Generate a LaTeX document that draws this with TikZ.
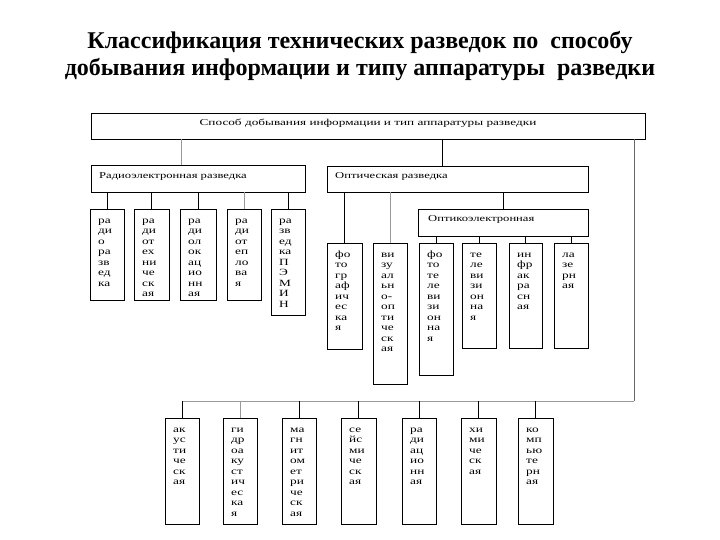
\documentclass[tikz,border=0pt]{standalone}
\usepackage{fontspec}
\setmainfont{Liberation Serif}
\newfontfamily\leaffont[FakeStretch=1.4]{Liberation Serif}
\usetikzlibrary{calc}
\newcommand\leafbox[6]{%
  \node[box, minimum width=#4pt, minimum height=#5pt] (#1) at (#2,#3) {};
  \node[ltext] (#1t) at ($(#1.north west)+(8,6.8)$) {\strut#6};
}
\begin{document}
\begin{tikzpicture}[x=1pt,y=-1pt,
  box/.style={draw=black, line width=0.8pt, inner sep=0pt, outer sep=0pt, anchor=north west},
  ltext/.style={anchor=north west, inner sep=0pt, align=left, font=\leaffont\fontsize{9.5}{10.5}\selectfont},
  htext/.style={anchor=base west, inner sep=0pt, font=\leaffont\fontsize{9}{10}\selectfont},
  conn/.style={line width=0.8pt, draw=black},
  gconn/.style={line width=0.8pt, draw=black!40}]
\useasboundingbox (0,0) rectangle (720,540);
\fill[white] (0,0) rectangle (720,540);

\node[font=\bfseries\fontsize{24}{27}\selectfont, align=center, inner sep=0pt] (title) at (360,56)
  {Классификация технических разведок по~~способу\\добывания информации и типу аппаратуры~~разведки};

% headers
\node[box, minimum width=554pt, minimum height=26pt] (root) at (91,113) {};
\node[htext, anchor=base, font=\leaffont\fontsize{9}{10}\selectfont\addfontfeatures{FakeStretch=1.47}] (roott) at (368,126) {Способ добывания информации и тип аппаратуры разведки};
\node[box, minimum width=214pt, minimum height=27pt] (radio) at (91,165) {};
\node[htext] (radiot) at (99,179) {Радиоэлектронная разведка};
\node[box, minimum width=261pt, minimum height=26pt] (optic) at (327,166) {};
\node[htext] (optict) at (335,179) {Оптическая разведка};
\node[box, minimum width=170pt, minimum height=27pt] (opto) at (418,209) {};
\node[htext] (optot) at (428,222) {Оптикоэлектронная};

% radio leaves
\leafbox{r1}{90}{209}{34}{91}{ра\\ди\\о\\ра\\зв\\ед\\ка}
\leafbox{r2}{134}{209}{35}{91}{ра\\ди\\от\\ех\\ни\\че\\ск\\ая}
\leafbox{r3}{180}{209}{36}{91}{ра\\ди\\ол\\ок\\ац\\ио\\нн\\ая}
\leafbox{r4}{227}{209}{34}{91}{ра\\ди\\от\\еп\\ло\\ва\\я}
\leafbox{r5}{271}{209}{34}{106}{ра\\зв\\ед\\ка\\П\\Э\\М\\И\\Н}

% optical leaves
\leafbox{o1}{327}{243}{35}{106}{фо\\то\\гр\\аф\\ич\\ес\\ка\\я}
\leafbox{o2}{373}{243}{34}{141}{ви\\зу\\ал\\ьн\\о-\\оп\\ти\\че\\ск\\ая}
\leafbox{o3}{419}{243}{34}{132}{фо\\то\\те\\ле\\ви\\зи\\он\\на\\я}
\leafbox{o4}{462}{243}{34}{105}{те\\ле\\ви\\зи\\он\\на\\я}
\leafbox{o5}{509}{243}{33}{105}{ин\\фр\\ак\\ра\\сн\\ая}
\leafbox{o6}{554}{243}{34}{105}{ла\\зе\\рн\\ая}

% bottom leaves
\leafbox{b1}{165}{418}{34}{106}{ак\\ус\\ти\\че\\ск\\ая}
\leafbox{b2}{223}{418}{34}{106}{ги\\др\\оа\\ку\\ст\\ич\\ес\\ка\\я}
\leafbox{b3}{282}{418}{34}{106}{ма\\гн\\ит\\ом\\ет\\ри\\че\\ск\\ая}
\leafbox{b4}{341}{418}{35}{106}{се\\йс\\ми\\че\\ск\\ая}
\leafbox{b5}{402}{418}{34}{106}{ра\\ди\\ац\\ио\\нн\\ая}
\leafbox{b6}{461}{418}{35}{106}{хи\\ми\\че\\ск\\ая}
\leafbox{b7}{518}{418}{35}{106}{ко\\мп\\ью\\те\\рн\\ая}

% connectors
\coordinate (ra) at ($(radio.north west)+(90,0)$);
\coordinate (oa) at ($(optic.north west)+(115,0)$);
\coordinate (bus) at (634,401);
\draw[gconn] (ra |- root.south) -- (ra);
\draw[conn] (oa |- root.south) -- (oa);
\foreach \c in {r1,r2,r3,r5} \draw[conn] (radio.south -| \c.north) -- (\c.north);
\draw[gconn] (radio.south -| r4.north) -- (r4.north);
\draw[conn] (optic.south -| o1.north) -- (o1.north);
\draw[gconn] (optic.south -| o2.north) -- (o2.north);
\draw[conn] (optic.south -| opto.north) -- (opto.north);
\foreach \c in {o3,o4,o5,o6} \draw[conn] (opto.south -| \c.north) -- (\c.north);
\draw[draw=black!60, line width=0.8pt] (bus |- root.south) -- (bus);
\draw[gconn] (bus) -- (bus -| b1.north);
\foreach \c in {b1,b3,b4,b5,b6,b7} \draw[conn] (bus -| \c.north) -- (\c.north);
\draw[gconn] (bus -| b2.north) -- (b2.north);
\end{tikzpicture}
\end{document}
